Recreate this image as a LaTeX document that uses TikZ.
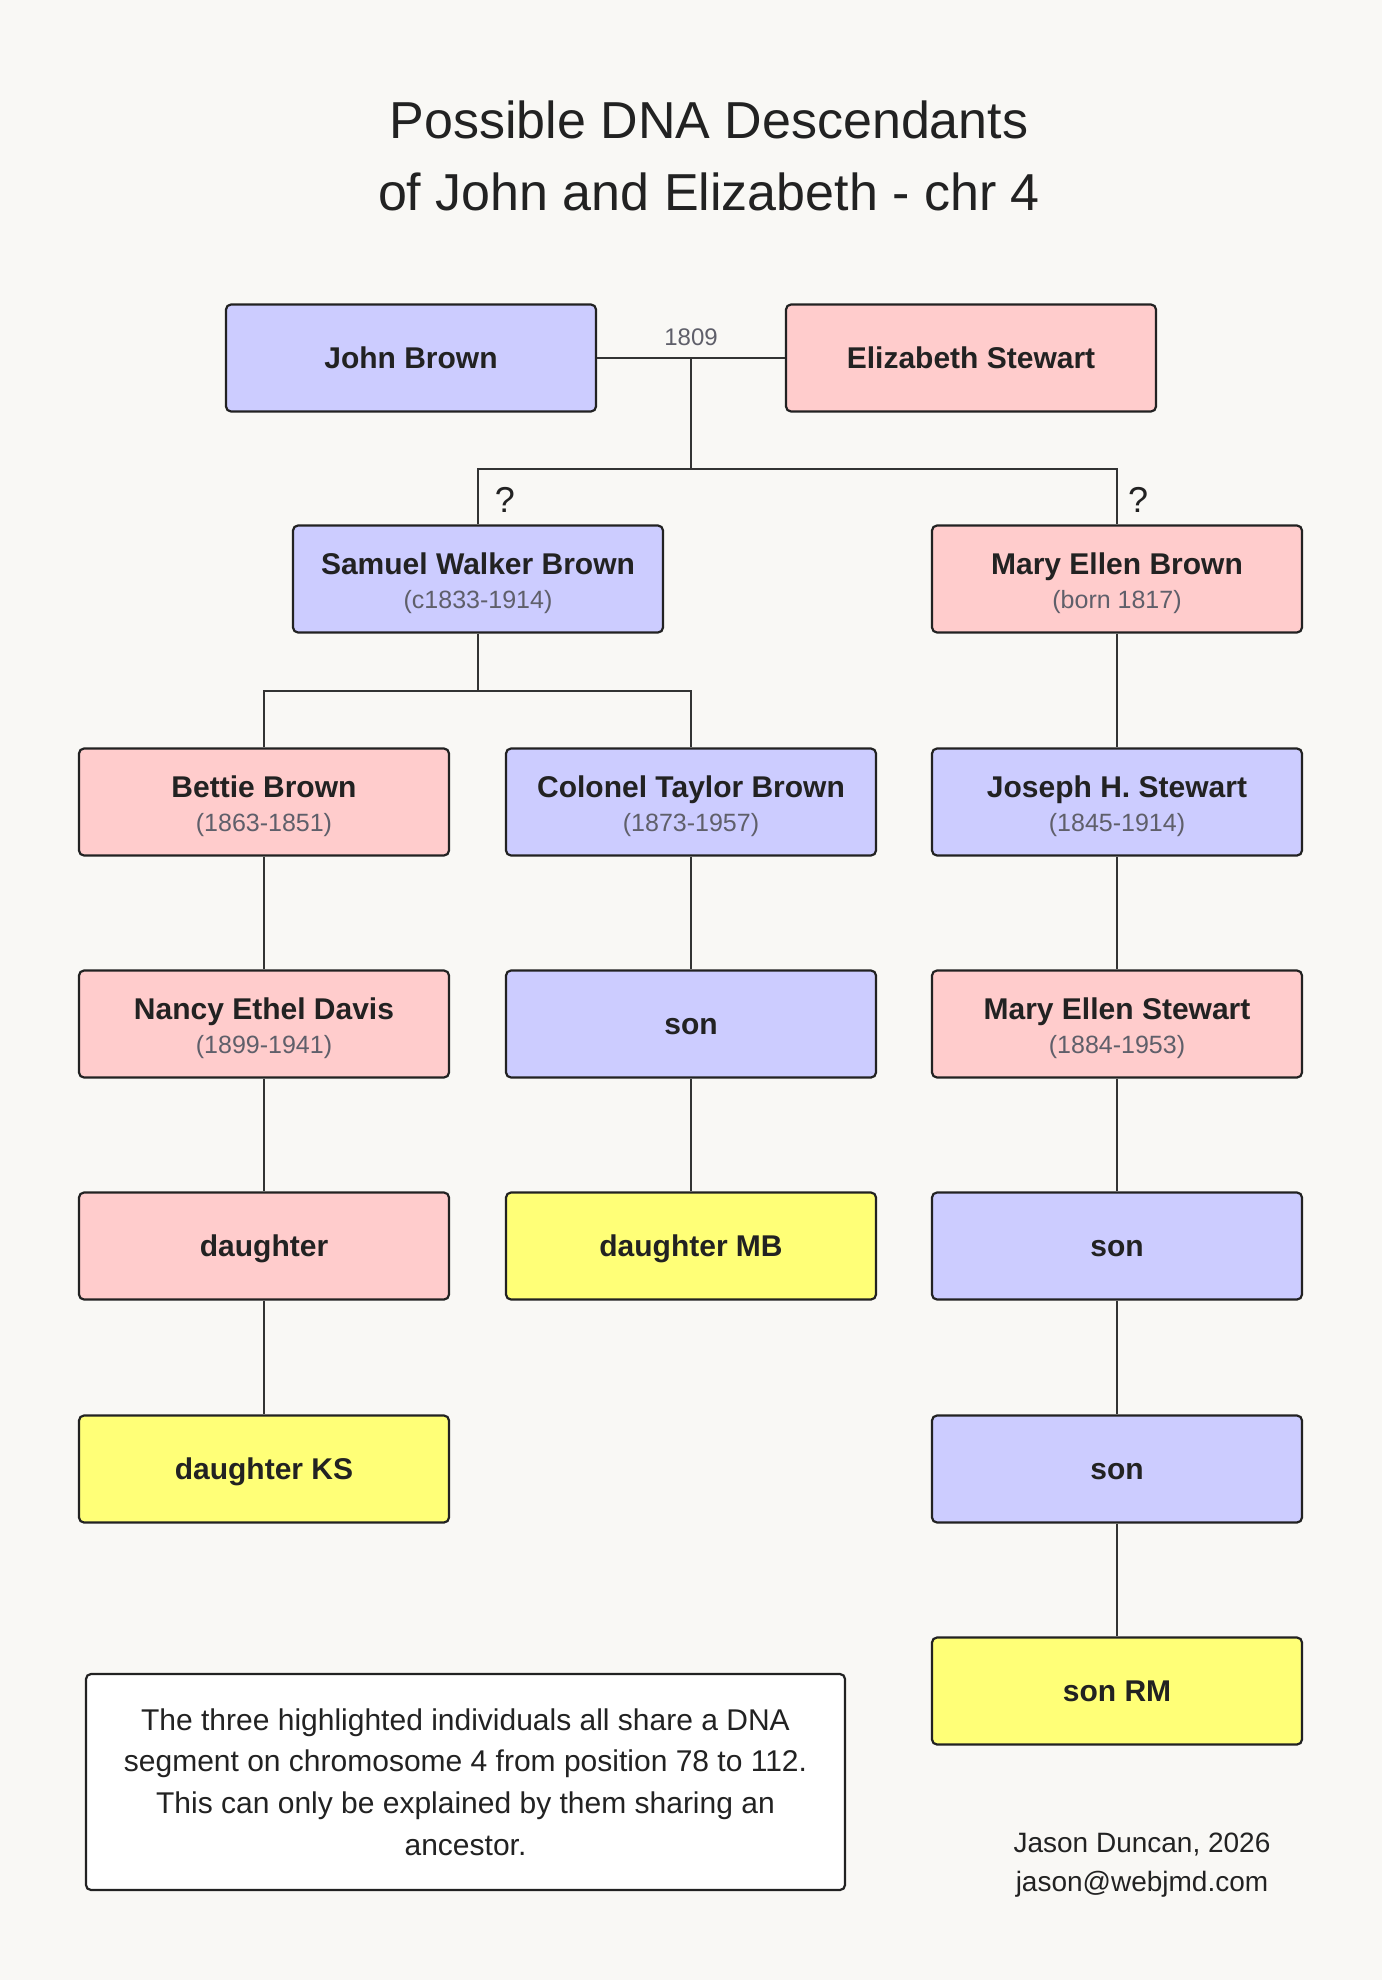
\documentclass[tikz,border=0pt]{standalone}
\usepackage{fontspec}
\setmainfont{Liberation Sans}
\usetikzlibrary{positioning}
\definecolor{maleblue}{HTML}{CCCCFF}
\definecolor{femalepink}{HTML}{FFCCCC}
\definecolor{dnayellow}{HTML}{FFFF77}
\definecolor{ink}{HTML}{222222}
\definecolor{dategray}{HTML}{5F5F6A}
\definecolor{linegray}{HTML}{333333}
\definecolor{paper}{HTML}{F9F8F5}

\tikzset{
  person/.style={draw=ink, line width=1.1pt, rounded corners=2.5pt, minimum width=185pt,
    minimum height=53.5pt, align=center, text=ink, font=\bfseries\fontsize{15}{17}\selectfont,
    execute at begin node={\rule[-3.2pt]{0pt}{16.8pt}}},
  male/.style={person, fill=maleblue},
  female/.style={person, fill=femalepink},
  dnamatch/.style={person, fill=dnayellow},
  link/.style={draw=linegray, line width=1.1pt},
}
\newcommand{\yrs}[1]{{\mdseries\fontsize{12.5}{15}\selectfont\color{dategray}\rule[-2.65pt]{0pt}{5pt}#1}}
\newcommand{\who}[2]{\rule[-3.2pt]{0pt}{19.05pt}#1\\\yrs{#2}}

\begin{document}
\begin{tikzpicture}[x=0.5pt,y=-0.5pt]
\fill[paper] (0,0) rectangle (1382,1980);
\useasboundingbox (0,0) rectangle (1382,1980);

% title
\node[align=center, text=ink, font=\fontsize{26}{36}\selectfont] (title) at (709,156)
  {Possible DNA Descendants\\of John and Elizabeth - chr 4};

% nodes
\node[male] (jb) at (411,358) {John Brown};
\node[female] (es) at (971,358) {Elizabeth Stewart};

\node[male] (sw) at (478,579) {\who{Samuel Walker Brown}{(c1833-1914)}};
\node[female] (meb) at (1117,579) {\who{Mary Ellen Brown}{(born 1817)}};

\node[female] (bb) at (264,802) {\who{Bettie Brown}{(1863-1851)}};
\node[male] (ctb) at (691,802) {\who{Colonel Taylor Brown}{(1873-1957)}};
\node[male] (jhs) at (1117,802) {\who{Joseph H. Stewart}{(1845-1914)}};

\node[female] (ned) at (264,1024) {\who{Nancy Ethel Davis}{(1899-1941)}};
\node[male] (sonc) at (691,1024) {son};
\node[female] (mes) at (1117,1024) {\who{Mary Ellen Stewart}{(1884-1953)}};

\node[female] (dau) at (264,1246) {daughter};
\node[dnamatch] (dmb) at (691,1246) {daughter MB};
\node[male] (sonj) at (1117,1246) {son};

\node[dnamatch] (dks) at (264,1469) {daughter KS};
\node[male] (sonk) at (1117,1469) {son};

\node[dnamatch] (srm) at (1117,1691) {son RM};

% marriage and children
\coordinate (wed) at (691,358);
\coordinate (kids) at (691,469);
\coordinate (swkids) at (478,691);
\draw[link] (jb) -- (es);
\node[text=dategray, font=\fontsize{12}{14}\selectfont] (year) at (691,337) {1809};
\draw[link] (wed) -- (kids);
\draw[link] (sw.north) |- (kids) -| (meb.north);
\node[text=ink, font=\fontsize{18}{20}\selectfont] (q1) at (505,500) {?};
\node[text=ink, font=\fontsize{18}{20}\selectfont] (q2) at (1138,500) {?};

\draw[link] (sw) -- (swkids);
\draw[link] (bb.north) |- (swkids) -| (ctb.north);

% lines of descent
\draw[link] (bb) -- (ned);
\draw[link] (ned) -- (dau);
\draw[link] (dau) -- (dks);
\draw[link] (ctb) -- (sonc);
\draw[link] (sonc) -- (dmb);
\draw[link] (meb) -- (jhs);
\draw[link] (jhs) -- (mes);
\draw[link] (mes) -- (sonj);
\draw[link] (sonj) -- (sonk);
\draw[link] (sonk) -- (srm);

% note and author
\node[draw=ink, line width=1.1pt, fill=white, rounded corners=2.5pt, minimum width=379.5pt,
  minimum height=108pt, align=center, text=ink, font=\fontsize{15}{20.9}\selectfont] (note) at (465.5,1782)
  {The three highlighted individuals all share a DNA\\segment on chromosome 4 from position 78 to 112.\\This can only be explained by them sharing an\\ancestor.};
\node[align=center, text=ink, font=\fontsize{14}{19.5}\selectfont] (author) at (1142,1865)
  {Jason Duncan, 2026\\jason@webjmd.com};
\end{tikzpicture}
\end{document}
